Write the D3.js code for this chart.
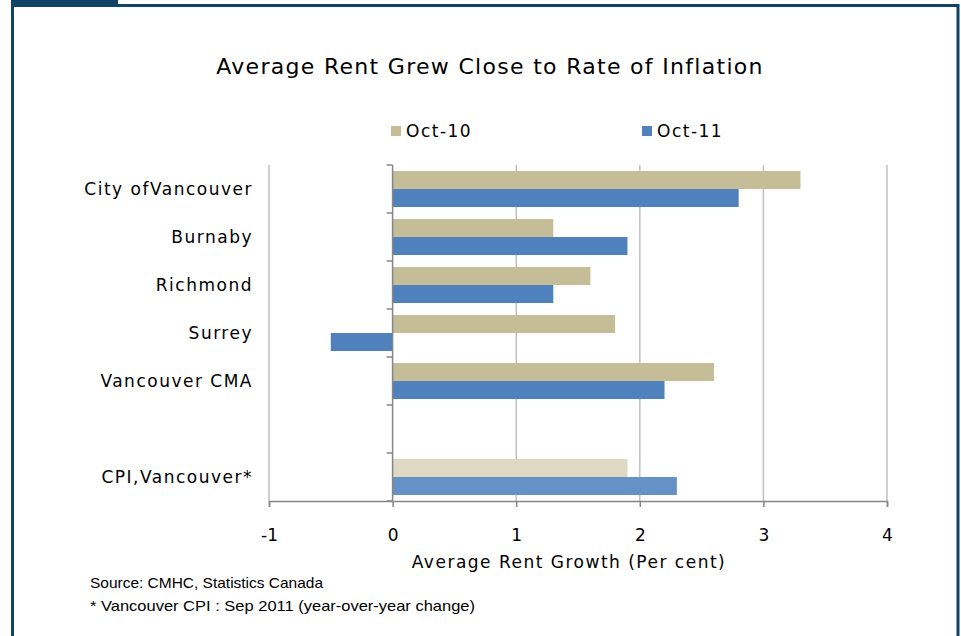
<!DOCTYPE html>
<html>
<head>
<meta charset="utf-8">
<script src="https://cdn.jsdelivr.net/npm/d3@7"></script>
<style>
  body { margin: 0; background: #fff; }
  svg text { font-family: "DejaVu Sans", Verdana, sans-serif; fill: #000; }
</style>
</head>
<body>
<div id="display"></div>
<script>
var categories = ["City ofVancouver", "Burnaby", "Richmond", "Surrey", "Vancouver CMA", "", "CPI,Vancouver*"];
var oct10 = [3.3, 1.3, 1.6, 1.8, 2.6, null, 1.9];
var oct11 = [2.8, 1.9, 1.3, -0.5, 2.2, null, 2.3];
var seriesNames = ["Oct-10", "Oct-11"];
var xTicks = [-1, 0, 1, 2, 3, 4];

var colourTan = "#c4bd97";
var colourBlue = "#4f81bd";
var colourTanLight = "#ddd9c3";
var colourBlueLight = "#6592c6";
var frameColour = "#0f4468";

var W = 961, H = 636;
var svg = d3.select("#display").append("svg")
    .attr("width", W)
    .attr("height", H);

// frame
svg.append("rect")
    .attr("x", 12.5).attr("y", 5.5)
    .attr("width", 945.5).attr("height", 640)
    .attr("fill", "none")
    .attr("stroke", frameColour)
    .attr("stroke-width", 3);
svg.append("rect")
    .attr("x", 11).attr("y", 0)
    .attr("width", 107).attr("height", 6)
    .attr("fill", frameColour);

var margin = {top: 165, left: 269},
    width = 887 - 269,
    height = 501 - 165;

var g = svg.append("g")
    .attr("transform", "translate(" + margin.left + "," + margin.top + ")");

var x = d3.scaleLinear().domain([-1, 4]).range([0, width]);
var y0 = d3.scaleBand().domain(d3.range(categories.length)).range([0, height]).paddingInner(0.25).paddingOuter(0.125);
var y1 = d3.scaleBand().domain([0, 1]).range([0, y0.bandwidth()]);

// gridlines
g.append("g")
  .selectAll("line")
  .data(xTicks.filter(function(d) { return d !== 0; }))
  .enter().append("line")
    .attr("x1", function(d) { return x(d); })
    .attr("x2", function(d) { return x(d); })
    .attr("y1", 0)
    .attr("y2", height)
    .attr("stroke", "#c0c0c0")
    .attr("stroke-width", 1.5);

// bars
var rows = categories.map(function(c, i) {
  return {i: i, vals: [oct10[i], oct11[i]]};
});
var colours = function(i, k) {
  if (i === categories.length - 1) return k === 0 ? colourTanLight : colourBlueLight;
  return k === 0 ? colourTan : colourBlue;
};

g.append("g")
  .selectAll("g")
  .data(rows)
  .enter().append("g")
    .attr("transform", function(d) { return "translate(0," + y0(d.i) + ")"; })
  .selectAll("rect")
  .data(function(d) { return d.vals.map(function(v, k) { return {i: d.i, k: k, v: v}; }).filter(function(e) { return e.v !== null; }); })
  .enter().append("rect")
    .attr("x", function(d) { return x(Math.min(0, d.v)); })
    .attr("y", function(d) { return y1(d.k); })
    .attr("width", function(d) { return Math.abs(x(d.v) - x(0)); })
    .attr("height", y1.bandwidth())
    .attr("fill", function(d) { return colours(d.i, d.k); });

// zero axis with category ticks
var catTicks = d3.range(categories.length + 1).map(function(i) { return i * height / categories.length; });
var zeroAxis = g.append("g").attr("stroke", "#868686").attr("stroke-width", 1.5);
zeroAxis.append("line")
    .attr("x1", x(0)).attr("x2", x(0))
    .attr("y1", 0).attr("y2", height);
zeroAxis.selectAll(".ct")
  .data(catTicks)
  .enter().append("line")
    .attr("x1", x(0) - 6).attr("x2", x(0))
    .attr("y1", function(d) { return d; })
    .attr("y2", function(d) { return d; });

// category labels
g.append("g")
  .selectAll("text")
  .data(categories)
  .enter().append("text")
    .attr("x", -16)
    .attr("y", function(d, i) { return y0(i) + y0.bandwidth() / 2; })
    .attr("dy", "0.35em")
    .attr("text-anchor", "end")
    .attr("font-size", 17)
    .attr("letter-spacing", 1.5)
    .text(function(d) { return d; });

// bottom axis
var xAxis = g.append("g")
    .attr("transform", "translate(0," + height + ")")
    .call(d3.axisBottom(x).tickValues(xTicks).tickSize(6).tickFormat(function(d) { return String(d); }));
xAxis.select(".domain").attr("stroke", "#868686").attr("stroke-width", 1.5);
xAxis.selectAll(".tick line").attr("stroke", "#868686").attr("stroke-width", 1.5);
xAxis.selectAll(".tick text")
    .attr("y", 28)
    .attr("font-size", 17)
    .attr("fill", "#000");

// axis title
svg.append("text")
    .attr("x", 569).attr("y", 568)
    .attr("text-anchor", "middle")
    .attr("font-size", 17)
    .attr("letter-spacing", 1.5)
    .text("Average Rent Growth (Per cent)");

// title
svg.append("text")
    .attr("x", 490).attr("y", 74)
    .attr("text-anchor", "middle")
    .attr("font-size", 22)
    .attr("letter-spacing", 1.3)
    .text("Average Rent Grew Close to Rate of Inflation");

// legend
var legendX = [391, 642];
var legend = svg.append("g")
  .selectAll("g")
  .data(seriesNames)
  .enter().append("g")
    .attr("transform", function(d, i) { return "translate(" + legendX[i] + ",126)"; });
legend.append("rect")
    .attr("width", 10).attr("height", 10)
    .attr("fill", function(d, i) { return i === 0 ? colourTan : colourBlue; });
legend.append("text")
    .attr("x", 15).attr("y", 11)
    .attr("font-size", 17)
    .attr("letter-spacing", 1.5)
    .text(function(d) { return d; });

// source notes
var notes = [
  {text: "Source: CMHC, Statistics Canada", y: 588, len: 233},
  {text: "* Vancouver CPI : Sep 2011 (year-over-year change)", y: 611, len: 385}
];
svg.append("g")
  .selectAll("text")
  .data(notes)
  .enter().append("text")
    .attr("x", 90)
    .attr("y", function(d) { return d.y; })
    .attr("font-size", 15)
    .attr("textLength", function(d) { return d.len; })
    .attr("lengthAdjust", "spacingAndGlyphs")
    .style("font-family", "'Liberation Sans Narrow', 'Liberation Sans', sans-serif")
    .text(function(d) { return d.text; });
</script>
</body>
</html>
